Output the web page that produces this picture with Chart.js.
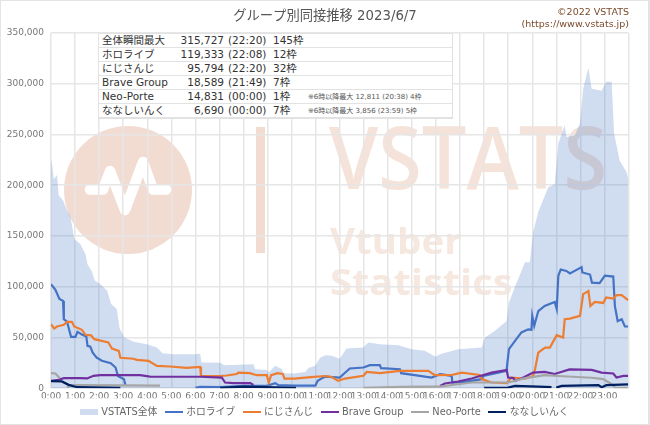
<!DOCTYPE html>
<html><head><meta charset="utf-8">
<script src="https://cdn.jsdelivr.net/npm/chart.js@4"></script>
<style>
html,body{margin:0;padding:0;background:#fff}
#wrap{position:relative;width:650px;height:425px;overflow:hidden;font-family:"DejaVu Sans","Noto Sans CJK JP",sans-serif}
#frame{position:absolute;left:0;top:0;width:650px;height:425px;box-sizing:border-box;border:1px solid #e4e4e4;border-right-width:2px;pointer-events:none}
canvas{position:absolute;left:0;top:0}
#copy{position:absolute;right:21px;top:6px;text-align:right;font-size:9.5px;line-height:11.5px;color:#7b4a2c}
#stats{position:absolute;left:98px;top:33px;width:353px;height:84px;background:#fff;border:1px solid #e2e2e2;box-sizing:content-box;color:#333;font-size:10.5px}
.row{position:absolute;left:0;width:353px;height:14px;line-height:13px;border-bottom:1px solid #e2e2e2;box-sizing:border-box;white-space:nowrap}
.row span{position:absolute;top:0}
.note{font-size:7px;color:#555}
</style></head><body>
<div id="wrap">
<canvas id="c" width="650" height="425"></canvas>
<div id="stats"></div>
<div id="copy">©2022 VSTATS<br>(https://www.vstats.jp)</div>
<div id="frame"></div>
</div>
<script>
const chartTitle = 'グループ別同接推移 2023/6/7';
const statNames = ['全体瞬間最大','ホロライブ','にじさんじ','Brave Group','Neo-Porte','ななしいんく'];
const statPeaks = ['315,727','119,333','95,794','18,589','14,831','6,690'];
const statTimes = ['(22:20)','(22:08)','(22:20)','(21:49)','(00:00)','(00:00)'];
const statFrames = ['145枠','12枠','32枠','7枠','1枠','7枠'];
const statNotes = ['','','','','※6時以降最大 12,811 (20:38) 4枠','※6時以降最大 3,856 (23:59) 5枠'];

const totalT = [0,2,7,15,19,30,40,48,58,73,86,91,102,109,123,140,150,164,171,183,206,239,264,278,306,360,372,375,422,432,505,509,538,543,559,576,580,605,634,642,659,671,684,700,720,737,779,791,820,866,899,932,959,970,1015,1074,1082,1107,1136,1142,1153,1182,1194,1202,1215,1240,1256,1265,1281,1285,1306,1319,1327,1340,1348,1373,1384,1398,1404,1418,1435,1439];
const totalV = [225000,222000,206000,210000,190000,185000,175000,170000,147000,142000,132000,122000,115000,106000,102500,96000,83000,78000,59000,50000,45700,43400,40000,34500,33500,33500,34000,25300,25000,22700,23700,18700,18000,15500,22000,18700,14800,14500,16000,20000,22000,30000,32500,32000,29000,39000,40000,45000,43400,42400,38400,36800,31000,33500,38400,40000,50000,56500,66000,84500,96000,124000,124000,153500,173500,198000,201000,241000,259000,247500,249000,261000,295000,315700,295000,293000,302000,302000,251000,224000,213000,206500];

const holoT = [0,11,21,30,32,40,50,61,66,77,88,91,98,104,114,127,149,161,167,182,186,187,360,372,422,480,538,559,567,605,659,665,676,684,720,729,745,779,795,808,820,823,870,873,907,949,970,999,1001,1032,1074,1078,1136,1138,1142,1157,1173,1190,1198,1200,1205,1215,1231,1256,1261,1265,1271,1285,1294,1323,1325,1344,1349,1368,1381,1402,1406,1413,1423,1431,1439];
const holoV = [102500,97000,88000,86000,68000,65500,50600,50600,55500,53000,51000,41700,41000,35000,30000,27000,24700,20400,12000,8900,2300,null,300,1300,1000,2300,2300,5000,3000,2600,2600,7200,9900,11500,10500,13800,19400,20400,22700,22700,22700,19700,18700,14800,12800,10500,13800,12200,5600,6200,8900,12200,17000,25300,38500,46700,55000,58000,57500,71300,61500,76000,81000,85000,78000,110800,117000,115500,113000,119300,114000,112000,104000,103500,110800,110000,81000,66000,68000,60800,60800];

const nijiT = [0,8,15,32,40,52,58,77,86,100,108,143,152,169,173,206,214,243,264,297,338,372,374,422,438,463,467,496,513,516,538,543,549,565,578,582,607,648,684,700,716,733,779,787,820,870,941,957,999,1024,1069,1074,1099,1136,1148,1182,1202,1207,1215,1232,1244,1261,1277,1281,1294,1319,1327,1340,1345,1356,1377,1384,1402,1410,1423,1439];
const nijiV = [63000,58800,60800,62500,65400,65400,60800,57500,52600,52000,48300,45000,39000,36800,30000,29000,27900,27000,22000,21400,20000,21000,12000,12000,12500,14000,15400,14800,12800,12800,12800,5600,12800,14800,14000,9500,9500,11000,12000,11000,7200,9500,12200,16000,14800,17000,17000,12800,13000,15400,13000,8900,5600,5000,10500,9500,12000,18700,35000,40000,40000,52300,50000,68000,68500,71300,92700,95800,81000,85000,84000,89400,88400,91700,91700,86800];

const braveT = [0,15,32,73,90,106,123,222,247,372,426,434,455,497,505,507,970,982,1015,1049,1099,1136,1140,1153,1157,1173,1202,1231,1256,1293,1348,1373,1402,1410,1427,1439];
const braveV = [7200,7900,9900,9900,9600,12200,12800,12800,11500,11300,10500,5600,5000,5000,3300,null,2300,4600,6600,9500,15400,18000,10500,9900,7200,9500,15400,16000,14000,18589,18000,15400,14500,10500,12200,12200];

const neoT = [0,11,22,23,40,48,73,272,277,779,874,959,970,1015,1049,1140,1182,1231,1265,1348,1377,1398,1406,1439];
const neoV = [14800,14500,9900,null,700,3000,3000,2600,null,300,1300,1600,1600,3900,5600,5600,9900,12800,12000,10300,8900,3900,700,300];

const nanaT = [0,27,44,65,173,175,422,482,611,612,1080,1140,1157,1215,1248,1257,1260,1273,1365,1373,1385,1439];
const nanaV = [6900,6700,3300,1000,300,null,300,1500,300,null,300,600,2300,1600,1000,null,600,2300,3000,1000,3000,3856];

const xMax = 1440, yMax = 350000;
const times = [totalT,holoT,nijiT,braveT,neoT,nanaT];
const values = [totalV,holoV,nijiV,braveV,neoV,nanaV];
const colors = ['rgba(68,114,196,0.25)','#4472c4','#ed7d31','#7030a0','#a5a5a5','#002060'];
const legendNames = ['VSTATS全体','ホロライブ','にじさんじ','Brave Group','Neo-Porte','ななしいんく'];

function swatch(color,h){
  const s=document.createElement('canvas');s.width=18;s.height=h;
  const g=s.getContext('2d');g.fillStyle=color;g.fillRect(0,0,18,h);return s;
}
const watermark={id:'watermark',beforeDraw(chart){
  const g=chart.ctx;g.save();
  g.fillStyle='#fff';g.fillRect(0,0,650,425);
  g.fillStyle='#f2dcd2';
  g.beginPath();g.arc(128,190,64,0,Math.PI*2);g.fill();
  g.fillRect(256,127,9,126);
  g.strokeStyle='#fff';g.lineWidth=10.5;g.lineCap='round';g.lineJoin='round';
  g.beginPath();g.moveTo(90,189.5);g.lineTo(103,189.5);g.lineTo(110,171);g.lineTo(125,210);g.lineTo(143,162);g.lineTo(153,189.5);g.lineTo(166,189.5);g.stroke();
  g.textBaseline='alphabetic';g.textAlign='left';
  g.save();g.translate(329,189);g.scale(0.92,1);
  g.font='600 86px "Open Sans"';g.fillStyle='#f5e3da';g.fillText('VSTATS',0,0);g.restore();
  g.font='bold 35px "Open Sans"';g.fillStyle='#f6e7df';
  g.save();g.translate(330,253.5);g.scale(1.1,1);g.fillText('Vtuber',0,0);g.restore();
  g.save();g.translate(330,295);g.scale(1.14,1);g.fillText('Statistics',0,0);g.restore();
  g.restore();
}};
const datasets=legendNames.map((n,i)=>({
  label:n,
  data:times[i].map((t,k)=>({x:t,y:values[i][k]})),
  borderColor:i===0?'transparent':colors[i],
  backgroundColor:colors[i],
  borderWidth:i===0?0:2.2,
  fill:i===0?'origin':false,
  pointRadius:0,tension:0,spanGaps:false,
  order:6-i
}));
new Chart(document.getElementById('c'),{
  type:'line',
  data:{datasets},
  plugins:[watermark],
  options:{
    responsive:false,animation:false,
    layout:{padding:{left:0,right:0,top:9,bottom:-2}},
    plugins:{
      title:{display:true,text:chartTitle,color:'#555',font:{family:'"DejaVu Sans","Noto Sans CJK JP"',size:13.3,weight:'normal'},padding:{top:0,bottom:8}},
      tooltip:{enabled:false},
      legend:{position:'bottom',labels:{
        color:'#666',font:{family:'"DejaVu Sans","Noto Sans CJK JP"',size:9.8},
        usePointStyle:true,pointStyleWidth:15,padding:9,boxHeight:8,
        generateLabels(){return legendNames.map((n,i)=>({text:n,fontColor:'#666',pointStyle:swatch(i===0?'#d1dcf0':colors[i],i===0?6:2),lineWidth:0,strokeStyle:'transparent',fillStyle:colors[i],datasetIndex:i}));}
      }}
    },
    scales:{
      x:{type:'linear',min:0,max:xMax,
        afterBuildTicks(s){s.ticks=[];for(let h=0;h<=24;h++)s.ticks.push({value:h*60});},
        afterFit(s){s.height=10;},
        grid:{color:'#e6e6e6',lineWidth:1.5,drawTicks:false},border:{display:false},
        ticks:{autoSkip:false,maxRotation:0,padding:3,color:'#777',font:{family:'"DejaVu Sans"',size:9},
          callback:v=>v<1440?(v/60)+':00':''}},
      y:{min:0,max:yMax,
        afterFit(s){s.width=51;},
        grid:{color:'#e6e6e6',lineWidth:1.5,drawTicks:false},border:{display:false},
        ticks:{stepSize:50000,padding:7,color:'#777',font:{family:'"DejaVu Sans"',size:9},
          callback:v=>v.toLocaleString('en-US')}},
      yRight:{position:'right',min:0,max:yMax,
        afterFit(s){s.width=21.5;},
        grid:{display:false},border:{display:false},ticks:{display:false}}
    }
  }
});
const box=document.getElementById('stats');
statNames.forEach((n,i)=>{
  const r=document.createElement('div');r.className='row';r.style.top=(i*14)+'px';
  r.innerHTML=`<span style="left:3px">${n}</span><span style="right:228px">${statPeaks[i]}</span><span style="left:129px">${statTimes[i]}</span><span style="left:174px">${statFrames[i]}</span><span class="note" style="left:209px;top:1px">${statNotes[i]}</span>`;
  box.appendChild(r);
});
</script>
</body></html>
